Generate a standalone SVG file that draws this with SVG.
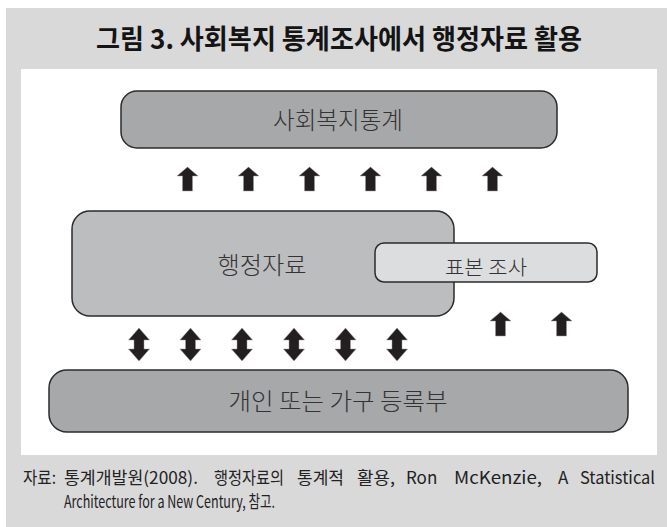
<svg xmlns="http://www.w3.org/2000/svg" xmlns:xlink="http://www.w3.org/1999/xlink" width="667" height="527" viewBox="0 0 667 527">
<style>
.box{stroke:#2b2b2b;stroke-width:1.5}
.lbl{font-family:"Noto Sans CJK KR","Noto Sans",sans-serif;font-weight:300;fill:#333;text-anchor:middle}
.title{font-family:"Noto Sans CJK KR","Noto Sans",sans-serif;font-weight:700;fill:#141414;text-anchor:middle;font-size:27px}
.cap{font-family:"Noto Sans CJK KR","Noto Sans",sans-serif;font-weight:400;fill:#222;font-size:17px}
.arr{fill:#231f20;stroke:#9a9a9a;stroke-width:0.5}
</style>
<defs>
<path id="up" d="M0,0 L10.5,9 L5,9 L5,24 L-5,24 L-5,9 L-10.5,9 Z"/>
<path id="dbl" d="M0,0 L10.5,12 L5,12 L5,21 L10.5,21 L0,33 L-10.5,21 L-5,21 L-5,12 L-10.5,12 Z"/>
</defs>
<rect x="6" y="8" width="661" height="519" fill="#d9d9da"/>
<rect x="21" y="69" width="636" height="386" fill="#ffffff"/>
<g id="title">
<text class="title" x="339" y="49" textLength="486" lengthAdjust="spacingAndGlyphs">그림 3. 사회복지 통계조사에서 행정자료 활용</text>
</g>
<g id="node-welfare-stats">
<rect class="box" x="121" y="91" width="436" height="57" rx="16" fill="#a7a8aa"/>
<text class="lbl" x="338" y="129" font-size="24" textLength="130" lengthAdjust="spacingAndGlyphs">사회복지통계</text>
</g>
<g id="node-admin-data">
<rect class="box" x="72" y="211" width="382" height="105" rx="18" fill="#bcbdbf"/>
<text class="lbl" x="262" y="274" font-size="24" textLength="89" lengthAdjust="spacingAndGlyphs">행정자료</text>
</g>
<g id="node-sample-survey">
<rect class="box" x="375" y="243" width="222" height="39" rx="9" fill="#dcdddf"/>
<text class="lbl" x="486" y="274.5" font-size="20" textLength="82" lengthAdjust="spacingAndGlyphs">표본 조사</text>
</g>
<g id="node-registry">
<rect class="box" x="49" y="370" width="579" height="62" rx="18" fill="#a7a8aa"/>
<text class="lbl" x="338" y="410" font-size="24" textLength="219" lengthAdjust="spacingAndGlyphs">개인 또는 가구 등록부</text>
</g>
<g id="connectors">
<use class="arr" href="#up" x="187.5" y="167"/>
<use class="arr" href="#up" x="248.5" y="167"/>
<use class="arr" href="#up" x="309.5" y="167"/>
<use class="arr" href="#up" x="370.5" y="167"/>
<use class="arr" href="#up" x="431.5" y="167"/>
<use class="arr" href="#up" x="492.5" y="167"/>
<use class="arr" href="#up" x="500.5" y="312"/>
<use class="arr" href="#up" x="561.5" y="312"/>
<use class="arr" href="#dbl" x="139" y="328"/>
<use class="arr" href="#dbl" x="190.5" y="328"/>
<use class="arr" href="#dbl" x="242" y="328"/>
<use class="arr" href="#dbl" x="294" y="328"/>
<use class="arr" href="#dbl" x="345.5" y="328"/>
<use class="arr" href="#dbl" x="397" y="328"/>
</g>
<g id="caption">
<text class="cap" y="484"><tspan x="23" textLength="33" lengthAdjust="spacingAndGlyphs">자료:</tspan> <tspan x="64" textLength="134" lengthAdjust="spacingAndGlyphs">통계개발원(2008).</tspan> <tspan x="214" textLength="70" lengthAdjust="spacingAndGlyphs">행정자료의</tspan> <tspan x="297" textLength="47" lengthAdjust="spacingAndGlyphs">통계적</tspan> <tspan x="357" textLength="38" lengthAdjust="spacingAndGlyphs">활용,</tspan> <tspan x="406">Ron</tspan> <tspan x="454" textLength="88" lengthAdjust="spacingAndGlyphs">McKenzie,</tspan> <tspan x="558">A</tspan> <tspan x="580" textLength="75" lengthAdjust="spacingAndGlyphs">Statistical</tspan></text>
<text class="cap" x="64" y="508" textLength="211" lengthAdjust="spacingAndGlyphs">Architecture for a New Century, 참고.</text>
</g>
</svg>
